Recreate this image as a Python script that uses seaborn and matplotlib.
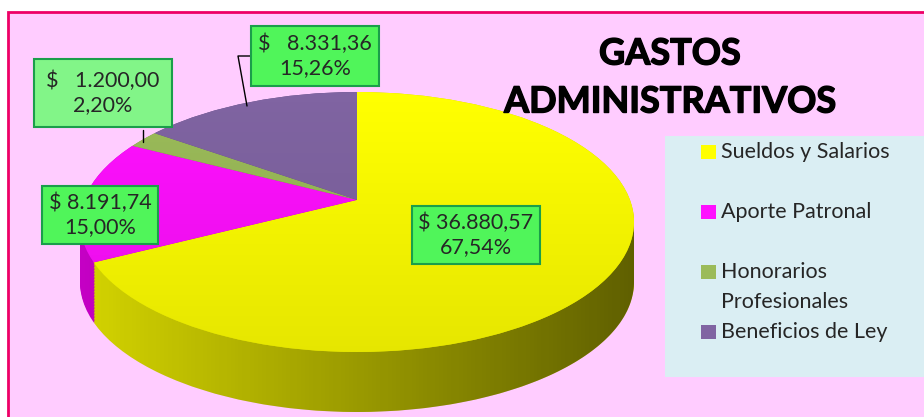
import numpy as np
import matplotlib.pyplot as plt
import matplotlib.patheffects as pe
import seaborn as sns
from matplotlib.patches import Rectangle
from matplotlib.path import Path
from matplotlib.lines import Line2D
from matplotlib.transforms import Affine2D

# data
categories = ['Sueldos y Salarios', 'Aporte Patronal', 'Honorarios\nProfesionales', 'Beneficios de Ley']
amounts = [36880.57, 8191.74, 1200.00, 8331.36]
money_prefix = ['$ ', '$ ', '$   ', '$   ']

# styles
top_colors = ['#FFFF00', '#FF10FF', '#9BBB59', '#8064A2']
side_colors = ['#D4D400', '#C400C4', '#7A9444', '#634D82']
box_colors = ['#50F55A', '#50F55A', '#82F588', '#50F55A']

W, H = 924, 417


def fx(x):
    return x / W


def fy(y):
    return 1 - y / H


def money(v):
    s = f"{v:,.2f}"
    return s.replace(",", "X").replace(".", ",").replace("X", ".")


sns.set_theme(style="white")
plt.rcParams['font.family'] = ['Lato', 'DejaVu Sans']

fig = plt.figure(figsize=(W / 100, H / 100), dpi=100)
fig.patch.set_facecolor('white')

# pink chart area with red border (right / bottom edges are cut off)
fig.add_artist(Rectangle((fx(8), -0.1), 1.2, fy(12) + 0.1, transform=fig.transFigure,
                         fc='#FFCCFF', ec='#EE0066', lw=2, zorder=0))

# pie geometry in pixels
cx, cy, rx, ry, depth_px = 357, 222, 277, 130, 60
dep = depth_px / ry
apex = 0.17  # perspective: pie centre sits above the ellipse centre
m = 0.05
ax = fig.add_axes([fx(cx - rx * (1 + m)), fy(cy + ry * (1 + m + dep)),
                   2 * rx * (1 + m) / W, ry * (2 + 2 * m + dep) / H])
ax.patch.set_alpha(0)


def disc(off, colors, z):
    wedges, _ = ax.pie(amounts, colors=colors, startangle=90, counterclock=False,
                       center=(0, apex - off), radius=1.3,
                       wedgeprops=dict(linewidth=0, zorder=z))
    clip_tr = Affine2D().translate(0, -off) + ax.transData
    for w in wedges:
        w.set_clip_on(True)
        w.set_clip_path(Path.unit_circle(), clip_tr)


# side of the 3D pie: stacked darker layers
n = 40
for k in range(n + 1):
    disc(dep * (1 - k / n), side_colors, 1)

# horizontal shading on the side band
t = np.linspace(np.pi, 2 * np.pi, 200)
upper = np.column_stack([np.cos(t), np.sin(t)])
lower = np.column_stack([np.cos(t[::-1]), np.sin(t[::-1]) - dep])
band = Path(np.vstack([upper, lower, upper[:1]]), closed=True)
shade = np.zeros((1, 256, 4))
shade[..., 3] = np.linspace(0.0, 0.55, 256)
im = ax.imshow(shade, extent=(-1, 1, -1 - dep, 0), aspect='auto', zorder=3,
               interpolation='bilinear')
im.set_clip_path(band, ax.transData)

# top face
disc(0, top_colors, 4)
shade2 = np.zeros((256, 1, 4))
shade2[..., 3] = np.linspace(0.0, 0.1, 256)[:, None]
im2 = ax.imshow(shade2, extent=(-1, 1, -1, 1), aspect='auto', zorder=5,
                interpolation='bilinear')
im2.set_clip_path(Path.unit_circle(), ax.transData)

ax.set_xlim(-1 - m, 1 + m)
ax.set_ylim(-1 - m - dep, 1 + m)
ax.set_aspect('auto')
ax.axis('off')

# title (stroke makes it as heavy as the original bold face)
thick = [pe.withStroke(linewidth=1.0, foreground='black')]
fig.text(fx(670), fy(54), 'GASTOS', ha='center', va='center', fontsize=26, weight='bold',
         color='black', path_effects=thick)
fig.text(fx(670), fy(102), 'ADMINISTRATIVOS', ha='center', va='center', fontsize=26,
         weight='bold', color='black', path_effects=thick)

# data labels
total = sum(amounts)
label_pos = [(476, 235), (100, 215), (103, 93), (315, 56)]
box_pad = [0.3, 0.3, 0.55, 0.35]
fig.add_artist(Line2D([fx(250), fx(238), fx(247)], [fy(56), fy(56), fy(106)], color='black', lw=1))
fig.add_artist(Line2D([fx(143), fx(143)], [fy(130), fy(142)], color='black', lw=1))
for v, pre, (px, py), fc, pad in zip(amounts, money_prefix, label_pos, box_colors, box_pad):
    pct = f"{100 * v / total:.2f}%".replace('.', ',')
    fig.text(fx(px), fy(py), f"{pre}{money(v)}\n{pct}", ha='center', va='center',
             multialignment='center', fontsize=15.5, linespacing=1.25,
             bbox=dict(boxstyle=f'square,pad={pad}', fc=fc, ec='#1A9E4A', lw=1.5))

# legend
fig.add_artist(Rectangle((fx(665), fy(377)), 1.0, (377 - 136) / H, transform=fig.transFigure,
                         fc='#DAEEF3', ec='none', zorder=1))
leg_y = [152, 212, 272, 332]
for name, col, ly in zip(categories, top_colors, leg_y):
    fig.add_artist(Rectangle((fx(701), fy(ly + 7)), 15 / W, 14 / H, transform=fig.transFigure,
                             fc=col, ec='none', zorder=2))
    for i, line in enumerate(name.split('\n')):
        fig.text(fx(721), fy(ly + 30 * i), line, ha='left', va='center', fontsize=15.5)

fig.savefig('out.png', dpi=100)
